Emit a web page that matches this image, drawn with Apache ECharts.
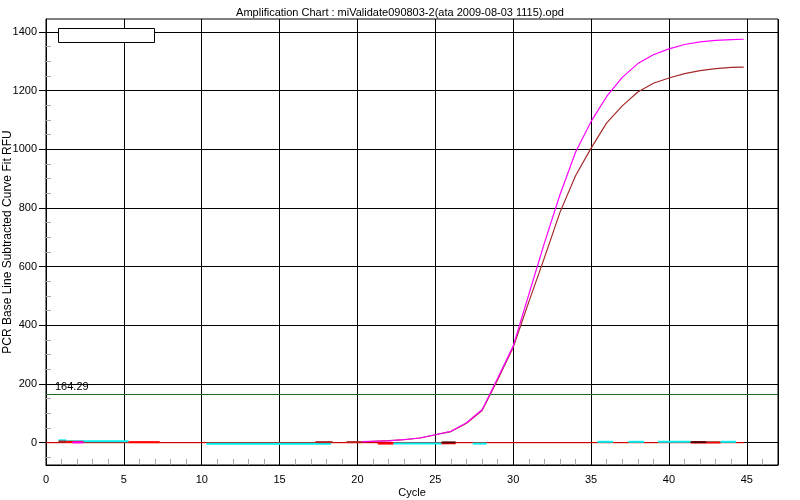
<!DOCTYPE html>
<html>
<head>
<meta charset="utf-8">
<script src="https://cdn.jsdelivr.net/npm/echarts@6/dist/echarts.min.js"></script>
<style>
html,body{margin:0;padding:0;background:#fff;}
#chart{width:800px;height:500px;}
</style>
</head>
<body>
<div id="chart"></div>
<script>
// ---- data ----
var titleText = 'Amplification Chart : miValidate090803-2(ata 2009-08-03 1115).opd';
var xTickLabels = [0, 5, 10, 15, 20, 25, 30, 35, 40, 45];
var yTickLabels = [0, 200, 400, 600, 800, 1000, 1200, 1400];
var threshold = 164.29;

var curveCycles = [20.3, 21, 22, 23, 24, 25, 26, 27, 28, 29, 30, 31, 32, 33, 34, 35, 36, 37, 38, 39, 40, 41, 42, 43, 44, 44.8];
var magentaValues = [4, 5, 6, 11, 16, 27, 39, 68, 112, 220, 330, 505, 680, 845, 990, 1095, 1180, 1245, 1292, 1322, 1342, 1357, 1366, 1371, 1374, 1375];
var brownValues = [3, 5, 7, 10, 16, 27, 38, 66, 110, 215, 325, 480, 630, 785, 910, 1004, 1090, 1148, 1195, 1225, 1243, 1258, 1268, 1275, 1279, 1280];

// baseline (red) drawn along zero
var redBaseline = [[0, 0], [44.8, 0]];

// short flat segments near zero: [startCycle, endCycle, value]
var cyanSegments = [[0.8, 1.3, 8], [1.3, 5.3, 5], [10.3, 18.3, -4], [22.3, 25.4, -3], [27.4, 28.3, -3],
                    [35.4, 36.4, 3], [37.4, 38.4, 3], [39.3, 41.4, 3], [42.4, 43.3, 2], [43.3, 44.3, 3]];
var redSegments = [[1.3, 2.4, 3], [5.3, 7.3, 2], [21.3, 22.3, -3], [25.4, 26.3, -2], [41.4, 43.3, 1]];
var darkSegments = [[25.4, 26.3, 1], [41.4, 42.4, 2]];
var brownSegments = [[0.8, 1.3, 4], [17.3, 18.4, 2], [19.3, 20.3, 2]];
var magentaSegments = [[1.7, 2.4, 1]];

// ---- build ----
function zip(xs, ys) { return xs.map(function (x, i) { return [x, ys[i]]; }); }
function segSeries(segs, color) {
  return segs.map(function (s) {
    return {
      type: 'line', data: [[s[0], s[2]], [s[1], s[2]]], symbol: 'none', silent: true,
      lineStyle: { color: color, width: 2 }, z: 3
    };
  });
}
function plain(v) { return String(v); }

var FONT = 'Liberation Sans, Arial, sans-serif';
var series = [];
series.push({
  type: 'line', data: redBaseline, symbol: 'none', silent: true,
  lineStyle: { color: '#ff0000', width: 1 }, z: 2,
  markLine: {
    silent: true, symbol: 'none',
    lineStyle: { color: '#1e6b1e', width: 1, type: 'solid' },
    label: { show: true, position: 'insideStartTop', formatter: String(threshold),
             color: '#000', fontFamily: FONT, fontSize: 11, distance: [9, 2] },
    data: [{ yAxis: threshold }]
  }
});
series = series.concat(segSeries(cyanSegments, '#00f0f0'));
series = series.concat(segSeries(redSegments, '#ff0000'));
series = series.concat(segSeries(darkSegments, '#500000'));
series = series.concat(segSeries(brownSegments, '#b22222'));
series = series.concat(segSeries(magentaSegments, '#ff00ff'));
series.push({
  type: 'line', data: zip(curveCycles, brownValues), symbol: 'none', silent: true,
  lineStyle: { color: '#a52a2a', width: 1.2 }, z: 4
});
series.push({
  type: 'line', data: zip(curveCycles, magentaValues), symbol: 'none', silent: true,
  lineStyle: { color: '#ff00ff', width: 1.2 }, z: 5
});

var chart = echarts.init(document.getElementById('chart'), null, { renderer: 'canvas' });
chart.setOption({
  backgroundColor: '#fff',
  animation: false,
  textStyle: { fontFamily: FONT },
  title: {
    text: titleText, left: 'center', top: 2,
    textStyle: { fontFamily: FONT, fontSize: 11, fontWeight: 'normal', color: '#000' }
  },
  grid: { left: 46, right: 22, top: 19, bottom: 35, containLabel: false, outerBoundsMode: 'none',
          show: true, borderColor: '#000', borderWidth: 1, backgroundColor: 'transparent' },
  xAxis: {
    type: 'value', min: 0, max: 47, interval: 5,
    name: 'Cycle', nameLocation: 'middle', nameGap: 22, nameMoveOverlap: false,
    nameTextStyle: { fontFamily: FONT, fontSize: 11, color: '#000' },
    axisLine: { show: true, onZero: false, lineStyle: { color: '#000', width: 1 } },
    axisTick: { show: false, inside: true },
    minorTick: { show: true, splitNumber: 5, length: 6, lineStyle: { color: '#a8a8a8', width: 1 } },
    axisLabel: { customValues: xTickLabels, formatter: plain, color: '#000', fontFamily: FONT, fontSize: 11, margin: 9 },
    splitLine: { show: true, lineStyle: { color: '#000', width: 1 } }
  },
  yAxis: [{
    type: 'value', min: -76, max: 1444, splitNumber: 8,
    name: 'PCR Base Line Subtracted Curve Fit RFU', nameLocation: 'middle', nameGap: 32, nameMoveOverlap: false,
    nameTextStyle: { fontFamily: FONT, fontSize: 12, color: '#000' },
    axisLine: { show: true, onZero: false, lineStyle: { color: '#000', width: 1 } },
    axisTick: { show: true, inside: false, length: 7, customValues: yTickLabels, lineStyle: { color: '#000' } },
    axisLabel: { customValues: yTickLabels, formatter: plain, color: '#000', fontFamily: FONT, fontSize: 11, margin: 9 },
    splitLine: { show: true, lineStyle: { color: '#000', width: 1 } }
  }, {
    type: 'value', min: -76, max: 1444, splitNumber: 8, position: 'left',
    axisLine: { show: false, onZero: false }, axisLabel: { show: false }, splitLine: { show: false },
    axisTick: { show: false, inside: true },
    minorTick: { show: true, splitNumber: 4, length: 5, lineStyle: { color: '#a8a8a8', width: 1 } }
  }],
  graphic: [{
    type: 'rect', left: 58, top: 28, shape: { width: 96, height: 14 },
    style: { fill: '#fff', stroke: '#000', lineWidth: 1 }, z: 100
  }],
  series: series
});
</script>
</body>
</html>
